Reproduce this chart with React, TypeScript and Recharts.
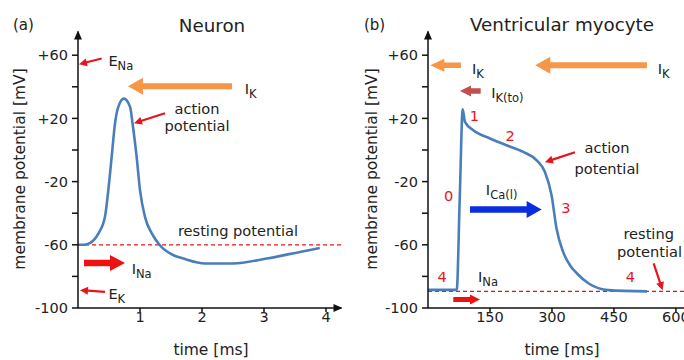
import React from "react";
import { LineChart, Line, XAxis, YAxis, ReferenceLine, ReferenceDot } from "recharts";

const FONT = "'DejaVu Sans', sans-serif";

// neuron action potential: time [ms] / membrane potential [mV]
const neuronTime = [0, 0.1, 0.19, 0.33, 0.435, 0.489, 0.543, 0.597, 0.65, 0.74, 0.84, 0.88, 0.946, 1.0, 1.08, 1.19, 1.32, 1.54, 1.7, 2.05, 2.5, 3.04, 3.58, 3.9];
const neuronMv = [-60, -60, -59, -52.8, -42.3, -25.4, -4.4, 16.8, 27.3, 32.5, 27.3, 16.8, -4.4, -25.4, -42.3, -52.8, -60.3, -66.6, -68.7, -71.8, -71.8, -68.7, -64.5, -62];
const neuronRest = -60;

// ventricular myocyte action potential
const myoTime = [0, 69.5, 77, 84, 89.5, 109.6, 150, 190, 230.5, 263, 283, 299, 311, 327, 343.5, 360, 389, 437, 530];
const myoMv = [-88.5, -88.5, -28.6, 25.8, 17.8, 12.5, 7.3, 3, -1.2, -6.5, -13.9, -28.6, -49.7, -64.5, -72.9, -78, -84.5, -88.7, -89.5];
const myoRest = -89.5;

const yDomain = [-100, 75];
const yTicks = [-100, -80, -60, -40, -20, 0, 20, 40, 60];
const yLabelled = [-100, -60, -20, 20, 60];
const neuronXTicks = [1, 2, 3, 4];
const myoXTicks = [150, 300, 450, 600];

// arrows: tail -> tip, in data units
const neuronArrows = [
  { from: [0.382, 57.9], to: [0.016, 54.3], kind: "thin" },
  { from: [2.484, 40.4], to: [0.806, 40.4], kind: "orange" },
  { from: [1.403, 23.3], to: [0.903, 17.0], kind: "thin" },
  { from: [0.097, -71.5], to: [0.758, -71.5], kind: "red" },
  { from: [0.435, -89.8], to: [0.032, -88.7], kind: "thin" },
];
const myoArrows = [
  { from: [79.8, 53.7], to: [5.6, 53.7], kind: "orangeSmall" },
  { from: [529.8, 53.7], to: [259.6, 53.7], kind: "orange" },
  { from: [127.5, 37.4], to: [77.4, 37.4], kind: "darkred" },
  { from: [355.6, -1.4], to: [283, -7.7], kind: "thin" },
  { from: [101.6, -37.7], to: [275, -37.7], kind: "blue" },
  { from: [61.2, -94.6], to: [125.8, -94.6], kind: "redSmall" },
  { from: [546, -71.8], to: [567.7, -88.7], kind: "thin" },
];

// text notes, anchored at baseline
const neuronNotes = [
  { at: [0.49, 53.0], text: "E", sub: "Na" },
  { at: [2.69, 35.3], text: "I", sub: "K" },
  { at: [1.92, 23.1], text: "action", mid: true },
  { at: [1.92, 11.9], text: "potential", mid: true },
  { at: [2.58, -54.6], text: "resting potential", mid: true },
  { at: [0.866, -78.2], text: "I", sub: "Na" },
  { at: [0.49, -94], text: "E", sub: "K" },
];
const myoNotes = [
  { at: [106.5, 48], text: "I", sub: "K" },
  { at: [556, 48], text: "I", sub: "K" },
  { at: [153, 32.6], text: "I", sub: "K(to)" },
  { at: [112.5, 18.4], text: "1", mid: true, red: true },
  { at: [199, 5.8], text: "2", mid: true, red: true },
  { at: [433, -2.2], text: "action", mid: true },
  { at: [433, -14.9], text: "potential", mid: true },
  { at: [50, -32.2], text: "0", mid: true, red: true },
  { at: [140, -28.6], text: "I", sub: "Ca(l)" },
  { at: [334, -40], text: "3", mid: true, red: true },
  { at: [34, -83.5], text: "4", mid: true, red: true },
  { at: [489.5, -83.5], text: "4", mid: true, red: true },
  { at: [121, -83.5], text: "I", sub: "Na" },
  { at: [534, -56.6], text: "resting", mid: true },
  { at: [536, -68], text: "potential", mid: true },
];

const arrowStyle: Record<string, { fill: string; w: number; hl: number; hw: number }> = {
  thin: { fill: "#e8141c", w: 2.2, hl: 8, hw: 8 },
  orange: { fill: "#f79646", w: 6, hl: 15, hw: 17 },
  orangeSmall: { fill: "#f79646", w: 5.5, hl: 14, hw: 13 },
  darkred: { fill: "#c0504d", w: 5.5, hl: 11, hw: 11 },
  blue: { fill: "#0a2de0", w: 6.5, hl: 15, hw: 17 },
  red: { fill: "#ee1111", w: 6.5, hl: 15, hw: 16 },
  redSmall: { fill: "#ee1111", w: 5, hl: 10, hw: 10 },
};

const arrowShape = (kind: string) => (p: any) => {
  const s = arrowStyle[kind];
  const { x1, y1, x2, y2 } = p;
  const len = Math.hypot(x2 - x1, y2 - y1) || 1;
  const ux = (x2 - x1) / len;
  const uy = (y2 - y1) / len;
  const nx = -uy;
  const ny = ux;
  const bx = x2 - ux * s.hl;
  const by = y2 - uy * s.hl;
  const pts = [
    [x1 + (nx * s.w) / 2, y1 + (ny * s.w) / 2],
    [bx + (nx * s.w) / 2, by + (ny * s.w) / 2],
    [bx + (nx * s.hw) / 2, by + (ny * s.hw) / 2],
    [x2, y2],
    [bx - (nx * s.hw) / 2, by - (ny * s.hw) / 2],
    [bx - (nx * s.w) / 2, by - (ny * s.w) / 2],
    [x1 - (nx * s.w) / 2, y1 - (ny * s.w) / 2],
  ];
  return <polygon points={pts.map((q) => q.join(",")).join(" ")} fill={s.fill} />;
};

const noteShape = (n: any) => (p: any) => (
  <text
    x={p.cx}
    y={p.cy}
    textAnchor={n.mid ? "middle" : "start"}
    fill={n.red ? "#e8141c" : "#222"}
    fontSize={14.6}
    fontFamily={FONT}
  >
    {n.text}
    {n.sub && (
      <tspan fontSize={11.5} dy={4}>
        {n.sub}
      </tspan>
    )}
  </text>
);

const upHead = (p: any) => (
  <polygon points={`${p.cx},${p.cy - 1} ${p.cx - 4},${p.cy + 8} ${p.cx + 4},${p.cy + 8}`} fill="#111" />
);
const rightHead = (p: any) => (
  <polygon points={`${p.cx + 1},${p.cy} ${p.cx - 8},${p.cy - 4} ${p.cx - 8},${p.cy + 4}`} fill="#111" />
);

const tickStyle = { fontSize: 14.5, fontFamily: FONT, fill: "#222" };
const fmtY = (v: number) => (yLabelled.includes(v) ? (v > 0 ? `+${v}` : `${v}`) : "");

interface PanelProps {
  time: number[];
  mv: number[];
  rest: number;
  xDomain: number[];
  xTicks: number[];
  arrows: any[];
  notes: any[];
  width: number;
  left: number;
  marginLeft: number;
  marginRight: number;
  xArrow: boolean;
}

const Panel: React.FC<PanelProps> = (props) => {
  const data = props.time.map((t, i) => ({ t, v: props.mv[i] }));
  return (
    <div style={{ position: "absolute", left: props.left, top: 0 }}>
      <LineChart
        width={props.width}
        height={360}
        data={data}
        margin={{ top: 31.5, right: props.marginRight, bottom: 22, left: props.marginLeft }}
      >
        <XAxis
          dataKey="t"
          type="number"
          domain={props.xDomain}
          ticks={props.xTicks}
          interval={0}
          allowDataOverflow
          height={30}
          tickSize={4}
          tickMargin={0}
          stroke="#111"
          strokeWidth={1.5}
          tick={tickStyle}
        />
        <YAxis
          type="number"
          domain={yDomain}
          ticks={yTicks}
          interval={0}
          allowDataOverflow
          width={50}
          tickSize={6}
          tickMargin={4}
          stroke="#111"
          strokeWidth={1.5}
          tick={tickStyle}
          tickFormatter={fmtY}
        />
        <ReferenceLine y={props.rest} stroke="#e8141c" strokeWidth={1.3} strokeDasharray="4 3" />
        <Line
          dataKey="v"
          type="monotone"
          stroke="#4a7ebb"
          strokeWidth={2.6}
          dot={false}
          isAnimationActive={false}
        />
        {props.arrows.map((a, i) => (
          <ReferenceLine
            key={`a${i}`}
            segment={[
              { x: a.from[0], y: a.from[1] },
              { x: a.to[0], y: a.to[1] },
            ]}
            ifOverflow="visible"
            shape={arrowShape(a.kind)}
          />
        ))}
        {props.notes.map((n, i) => (
          <ReferenceDot key={`n${i}`} x={n.at[0]} y={n.at[1]} ifOverflow="visible" shape={noteShape(n)} />
        ))}
        <ReferenceDot x={props.xDomain[0]} y={yDomain[1]} ifOverflow="visible" shape={upHead} />
        {props.xArrow && (
          <ReferenceDot x={props.xDomain[1]} y={yDomain[0]} ifOverflow="visible" shape={rightHead} />
        )}
      </LineChart>
    </div>
  );
};

export default function App() {
  const txt = { fontFamily: FONT, fill: "#222" };
  return (
    <div
      style={{
        position: "absolute",
        left: 0,
        top: 0,
        width: 684,
        height: 360,
        overflow: "hidden",
        background: "#fff",
      }}
    >
      <Panel
        time={neuronTime}
        mv={neuronMv}
        rest={neuronRest}
        xDomain={[0, 4.25]}
        xTicks={neuronXTicks}
        arrows={neuronArrows}
        notes={neuronNotes}
        width={342}
        left={0}
        marginLeft={28}
        marginRight={0.5}
        xArrow
      />
      <Panel
        time={myoTime}
        mv={myoMv}
        rest={myoRest}
        xDomain={[0, 680]}
        xTicks={myoXTicks}
        arrows={myoArrows}
        notes={myoNotes}
        width={368}
        left={342}
        marginLeft={36}
        marginRight={1}
        xArrow={false}
      />
      <svg width={684} height={360} style={{ position: "absolute", left: 0, top: 0, pointerEvents: "none" }}>
        <text x={13} y={30} fontSize={15} {...txt}>(a)</text>
        <text x={212} y={31.5} fontSize={18.3} textAnchor="middle" {...txt}>Neuron</text>
        <text x={364} y={30} fontSize={15} {...txt}>(b)</text>
        <text x={562} y={31} fontSize={18.3} textAnchor="middle" {...txt}>Ventricular myocyte</text>
        <text x={211} y={355} fontSize={15.5} textAnchor="middle" {...txt}>time [ms]</text>
        <text x={562} y={355} fontSize={15.5} textAnchor="middle" {...txt}>time [ms]</text>
        <text transform="translate(25,169) rotate(-90)" fontSize={15.5} textAnchor="middle" {...txt}>
          membrane potential [mV]
        </text>
        <text transform="translate(377,169) rotate(-90)" fontSize={15.5} textAnchor="middle" {...txt}>
          membrane potential [mV]
        </text>
      </svg>
    </div>
  );
}
